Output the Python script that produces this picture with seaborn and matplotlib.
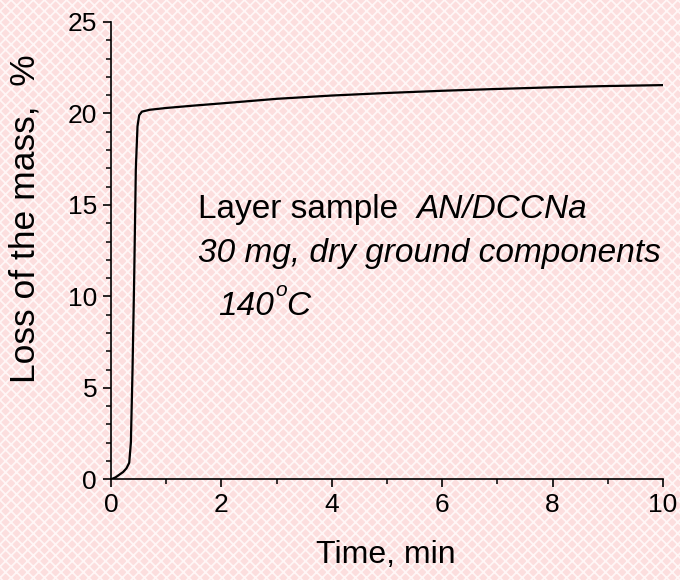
import matplotlib
matplotlib.use("Agg")
import matplotlib.pyplot as plt
import seaborn as sns
import pandas as pd
from matplotlib.patches import Rectangle
from matplotlib.ticker import MultipleLocator

# Data
time_min = [0, 0.08, 0.15, 0.22, 0.28, 0.33, 0.36, 0.39, 0.42, 0.45, 0.48, 0.51,
            0.56, 0.7, 1.0, 1.5, 2, 3, 4, 5, 6, 7, 8, 9, 10]
mass_loss = [0, 0.1, 0.25, 0.4, 0.6, 0.9, 2.0, 6.0, 11.0, 17.0, 19.3, 19.9,
             20.1, 20.2, 20.3, 20.43, 20.55, 20.8, 20.98, 21.12, 21.24, 21.34, 21.43, 21.5, 21.55]
x_ticks = [0, 2, 4, 6, 8, 10]
y_ticks = [0, 5, 10, 15, 20, 25]

df = pd.DataFrame({"t": time_min, "m": mass_loss})

sns.set_theme(style="ticks")
plt.rcParams["font.family"] = ["Liberation Sans", "DejaVu Sans"]
plt.rcParams["text.color"] = "black"
plt.rcParams["hatch.linewidth"] = 1.3

fig = plt.figure(figsize=(6.8, 5.8), dpi=100)

# patterned pink background
bg = fig.add_axes([0, 0, 1, 1], zorder=-5)
bg.axis("off")
bg.add_patch(Rectangle((0, 0), 1, 1, transform=bg.transAxes, facecolor="#fcdede",
                       edgecolor="#fff6f6", hatch="xxx", lw=0))

ax = fig.add_axes([111/680, 1-479.3/580, (663-111)/680, (479.3-22)/580])
ax.set_facecolor("none")

sns.lineplot(data=df, x="t", y="m", ax=ax, color="black", lw=1.6, estimator=None)

ax.set_xlim(0, 10)
ax.set_ylim(0, 25)
ax.set_xticks(x_ticks)
ax.set_yticks(y_ticks)
ax.set_xticklabels([str(v) for v in x_ticks])
ax.set_yticklabels([str(v) for v in y_ticks])
ax.xaxis.set_minor_locator(MultipleLocator(1))
ax.yaxis.set_minor_locator(MultipleLocator(1))
ax.tick_params(axis="both", which="major", direction="out", length=6, width=1.2,
               labelsize=19, colors="black", pad=4)
ax.tick_params(axis="both", which="minor", direction="out", length=3.5, width=1.1,
               colors="black")
for s in ["top", "right"]:
    ax.spines[s].set_visible(False)
for s in ["left", "bottom"]:
    ax.spines[s].set_linewidth(1.2)
    ax.spines[s].set_color("black")
ax.set_xlabel("")
ax.set_ylabel("")

fig.text(386/680, 1-555/580, "Time, min", ha="center", va="center", fontsize=23,
         color="black")
fig.text(25/680, 1-219/580, "Loss of the mass,  %", ha="center", va="center",
         rotation=90, fontsize=25.5, color="black")

FS = 24
fig.canvas.draw()
inv = ax.transData.inverted()


def put(x, y, s, **kw):
    t = ax.text(x, y, s, fontsize=kw.pop("fontsize", FS), ha="left", va="baseline",
                color="black", **kw)
    fig.canvas.draw()
    bb = t.get_window_extent()
    return inv.transform((bb.x1, bb.y0))[0]


xe = put(1.58, 14.3, "Layer sample  ")
put(xe, 14.3, "AN/DCCNa", style="italic")
put(1.58, 11.9, "30 mg, dry ground components", style="italic")
xe = put(1.95, 9.0, "140", style="italic")
xe2 = put(xe + 0.02, 10.0, "o", style="italic", fontsize=15)
put(xe2 - 0.02, 9.0, "C", style="italic")

fig.savefig("out.png", dpi=100)
